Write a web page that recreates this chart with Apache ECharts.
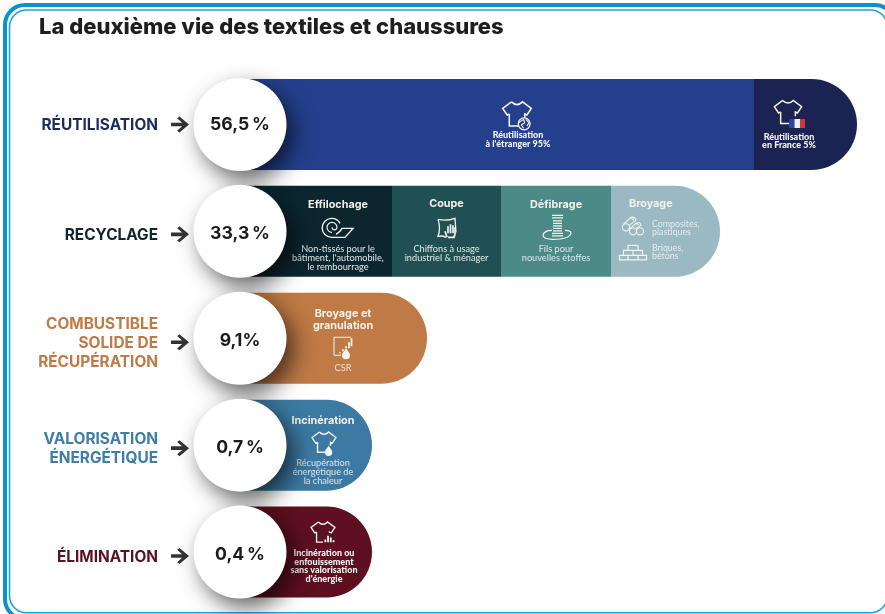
<!DOCTYPE html>
<html>
<head>
<meta charset="utf-8">
<style>html,body{margin:0;padding:0;background:#fff}#main{width:885px;height:614px}</style>
<script src="https://cdn.jsdelivr.net/npm/echarts@6/dist/echarts.min.js"></script>
</head>
<body>
<div id="main"></div>
<script>
var titleText = 'La deuxième vie des textiles et chaussures';
var categories = ['RÉUTILISATION', 'RECYCLAGE', 'COMBUSTIBLE\nSOLIDE DE\nRÉCUPÉRATION', 'VALORISATION\nÉNERGÉTIQUE', 'ÉLIMINATION'];
var shares = ['56,5\u202f%', '33,3\u202f%', '9,1%', '0,7\u202f%', '0,4\u202f%'];
var nameColors = ['#1c2a5e', '#10252c', '#c17a45', '#3c7ea8', '#5a1220'];

// longueurs des segments (les barres ne sont pas proportionnelles)
var lengthA = [514, 152, 187, 132, 132];
var lengthB = [103, 109, null, null, null];
var lengthC = [null, 110, null, null, null];
var lengthD = [null, 109, null, null, null];
var colorA = ['#24408d', '#0b262f', '#bf7a46', '#3c7aa3', '#5e0f20'];
var colorB = ['#1a2352', '#205053', null, null, null];
var colorC = [null, '#4a8a87', null, null, null];
var colorD = [null, '#9ab9c2', null, null, null];

var titleA = ['', 'Effilochage', 'Broyage et\ngranulation', 'Incinération', ''];
var textA = ['Réutilisation\nà l\'étranger 95%', 'Non-tissés pour le\nbâtiment, l\'automobile,\nle rembourrage', 'CSR', 'Récupération\nénergétique de\nla chaleur', 'Incinération ou\nenfouissement\nsans valorisation\nd\'énergie'];
var titleB = ['', 'Coupe', '', '', ''];
var textB = ['Réutilisation\nen France 5%', 'Chiffons à usage\nindustriel & ménager', '', '', ''];
var titleC = ['', 'Défibrage', '', '', ''];
var textC = ['', 'Fils pour\nnouvelles étoffes', '', '', ''];
var titleD = ['', 'Broyage', '', '', ''];
var textD = ['', 'Composites,\nplastiques\n\nBriques,\nbétons', '', '', ''];

/**
 * mise en page
 */
var TITLE_FONT = 'Inter';
var BODY_FONT = 'Lato';
var BAR_H = 91;
var shiftY = [0, 3, 4, 3, 4];

// réglage fin des libellés : dx, dy, gap entre titre et texte
var layoutA = [
    { dx: 21, dy: 15, bold: true },
    { dx: 22, dy: 3.5, gap: 34 },
    { dx: 9.5, dy: 1.5, gap: 31 },
    { dx: 17, dy: 5, gap: 31 },
    { dx: 18, dy: 14, bold: true }
];
var layoutB = [{ dx: -16.5, dy: 16.5, bold: true }, { dx: 0, dy: -1.5, gap: 34 }];
var layoutC = [null, { dx: 0, dy: -1, gap: 34 }];
var layoutD = [null, { left: 18, dy: -2.5, gap: 11 }];

function makeLabel(title, text, lay) {
    if (!title && !text) return { show: false };
    var lines = [];
    if (title) {
        title.split('\n').forEach(function (t) { lines.push('{t|' + t + '}'); });
    }
    if (title && text) lines.push('{s| }');
    text.split('\n').forEach(function (t) {
        if (t === '') lines.push('{g| }');
        else if (lay.left) lines.push('{p|' + t + '}');
        else if (lay.bold) lines.push('{k|' + t + '}');
        else lines.push('{b|' + t + '}');
    });
    var faint = lay.left ? '#e3edf0' : '#dfe8e8';
    var label = {
        show: true,
        formatter: lines.join('\n'),
        position: lay.left ? 'insideLeft' : 'inside',
        distance: lay.left || 0,
        offset: [lay.dx || 0, lay.dy || 0],
        rich: {
            t: { fontFamily: TITLE_FONT, fontWeight: 700, fontSize: 10.8, lineHeight: 12.5, color: '#f5f2ec' },
            b: { fontFamily: BODY_FONT, fontSize: 9.2, lineHeight: 9, color: faint },
            p: { fontFamily: BODY_FONT, fontSize: 8.8, lineHeight: 8, color: faint, padding: [0, 0, 0, 23] },
            k: { fontFamily: BODY_FONT, fontWeight: 900, fontSize: 9, lineHeight: 8.7, color: '#f4f4f4' },
            s: { fontSize: 1, lineHeight: lay.gap || 0 },
            g: { fontSize: 1, lineHeight: 8 }
        }
    };
    return label;
}

function makeSeries(lengths, colors, titles, texts, lays, nextLengths) {
    var data = lengths.map(function (v, i) {
        if (v === null) return null;
        var last = !nextLengths || nextLengths[i] === null;
        return {
            value: v,
            itemStyle: {
                color: colors[i],
                borderRadius: last ? [0, BAR_H / 2, BAR_H / 2, 0] : 0
            },
            label: makeLabel(titles[i], texts[i], lays[i] || {})
        };
    });
    return {
        type: 'bar',
        stack: 'vie',
        barWidth: BAR_H,
        data: data,
        silent: true,
        z: 2
    };
}

var series = [
    makeSeries(lengthA, colorA, titleA, textA, layoutA, lengthB),
    makeSeries(lengthB, colorB, titleB, textB, layoutB, lengthC),
    makeSeries(lengthC, colorC, titleC, textC, layoutC, lengthD),
    makeSeries(lengthD, colorD, titleD, textD, layoutD, null)
];

// cercles blancs avec les pourcentages
series.push({
    type: 'scatter',
    clip: false,
    symbolSize: 93,
    z: 5,
    silent: true,
    itemStyle: { color: '#fff', shadowBlur: 22, shadowColor: 'rgba(0,0,0,0.62)', shadowOffsetX: 7, shadowOffsetY: 9, opacity: 1 },
    data: shares.map(function (s, i) {
        return {
            value: [0, i],
            label: {
                show: true,
                position: 'inside',
                offset: [0, shiftY[i] * 0.7],
                formatter: s,
                fontFamily: TITLE_FONT,
                fontWeight: 700,
                fontSize: 17.6,
                color: '#1b1b1f'
            }
        };
    })
});

// flèches
series.push({
    type: 'scatter',
    clip: false,
    symbol: 'path://M0,6.2 H10.5 L5.8,1.8 L8,0 L17,8 L8,16 L5.8,14.2 L10.5,9.8 H0 Z',
    symbolSize: [18, 16],
    z: 5,
    silent: true,
    itemStyle: { color: '#000' },
    data: shares.map(function (s, i) {
        return { value: [-60, i], symbolOffset: [0, shiftY[i]] };
    })
});

/**
 * pictogrammes (custom series, placés depuis l'origine des barres et la ligne)
 */
var WHITE = '#f4f4f2';
var TEE = 'M-5 -11 Q0 -6 5 -11 L13 -5 L9 1 L7 0 V4 M-7 0 L-9 1 L-13 -5 L-5 -11 M-7 0 V11 H2';
var DROP = 'M0 -5 C2 -2 4 0 4 2 A4 4 0 0 1 -4 2 C-4 0 -2 -2 0 -5Z';

function stroke(path, w, color) {
    return { type: 'path', shape: { pathData: path }, style: { fill: null, stroke: color || WHITE, lineWidth: w || 1.3 } };
}
function fill(path, color, x, y) {
    return { type: 'path', x: x || 0, y: y || 0, shape: { pathData: path }, style: { fill: color || WHITE, stroke: null } };
}
function ring(cx, cy, r, w, bg) {
    return { type: 'circle', shape: { cx: cx, cy: cy, r: r }, style: { fill: bg || null, stroke: WHITE, lineWidth: w } };
}
function box(x, y, w, h, color) {
    return { type: 'rect', shape: { x: x, y: y, width: w, height: h }, style: { fill: color } };
}

// x : depuis le centre du cercle, row : ligne, dy : depuis le centre de la ligne
var icons = [
    { x: 277, row: 0, dy: -10.5, s: 1.1, parts: [
        stroke(TEE, 1.4),
        ring(6.5, 9, 5.4, 1.2, colorA[0]),
        stroke('M1.5 8 Q4 6 6 5 L7 8 L4 10 L6 13 M8 5 L11 8 L9 11', 1)
    ] },
    { x: 548, row: 0, dy: -12.5, s: 1.05, parts: [
        stroke(TEE, 1.4),
        box(1, 6.7, 5.2, 8.6, '#2a44a0'),
        box(6.2, 6.7, 5.2, 8.6, '#f2f2f4'),
        box(11.4, 6.7, 4.8, 8.6, '#d2353a')
    ] },
    { x: 98, row: 1, dy: -3, s: 1, parts: [
        stroke('M-6 9 A9.5 9.5 0 1 1 2 -5', 1.4),
        stroke('M-6 4 A5 5 0 1 1 -1 -1 A2.5 2.5 0 1 1 -6 -1', 1.2),
        stroke('M-6 9 H7 L15 0 H4 Q2 4 -2 6', 1.4)
    ] },
    { x: 207, row: 1, dy: -3, s: 1, parts: [
        stroke('M-9 -9 Q0 -7 8 -10 L9 4 M-9 -9 Q-6 0 -9 8 Q-5 7 -1 9', 1.3),
        stroke('M0 9 L-2 3 M1 5 V-2 M3.5 5 V-4 M6 5 V-3 M8 6 V-1 M1 9 H7 L8 6', 1.7)
    ] },
    { x: 317, row: 1, dy: -4, s: 1, parts: [
        stroke('M-5 -12 H6 M-5 -9.5 H6 M-4 -6.5 H5 M-4 -4 H5 M-4 -1.5 H5 M-4 1 H5 M-4 3.5 H5 M-5 6 H6 M-5 8.5 H6', 1.3),
        stroke('M-5 3 Q-13 3 -14 8 Q-14 12 -4 12 Q12 12 14 6 Q14 3 8 3', 1.2)
    ] },
    { x: 393, row: 1, dy: -5, s: 1, parts: [
        ring(-7, 1, 3.6, 1.1),
        ring(0, 5, 3.6, 1.1),
        ring(7, 5, 3.6, 1.1),
        stroke('M-9.5 -2 L-2 -9 Q2 -10 3 -6 L-4 -1 M-4 3 L3 -3 Q7 -5 8 -1 L3 2 M-2 -9 L1 -6 M3 -3 L6 -1', 1.1)
    ] },
    { x: 393, row: 1, dy: 21, s: 1, parts: [
        stroke('M-5 -7 H5 V-2 H-5 Z M-9.5 -2 H9.5 V3 H-9.5 Z M-13.5 3 H13.5 V7.5 H-13.5 Z M0 -2 V3 M-5 3 V7.5 M5 3 V7.5', 1.2)
    ] },
    { x: 103, row: 2, dy: 9, s: 1, parts: [
        stroke('M8 -10 H-9 V8 H-2', 1),
        stroke('M0 2 V4 M3 -1 V1 M6 -5 V1 M8.5 -9 V-1 M-3 5 V6', 1.8),
        fill(DROP, WHITE, 3, 6)
    ] },
    { x: 84, row: 3, dy: -3, s: 0.92, parts: [
        stroke(TEE, 1.5),
        fill(DROP, WHITE, 5, 9)
    ] },
    { x: 83, row: 4, dy: -20, s: 0.92, parts: [
        stroke('M-5 -11 Q0 -6 5 -11 L13 -5 L9 1 L7 0 V1 M-7 0 L-9 1 L-13 -5 L-5 -11 M-7 0 V11 H0', 1.5),
        stroke('M2.5 11 V8 M5.5 11 V4 M8.5 11 V6 M11.5 11 V9', 2)
    ] }
];

series.push({
    type: 'custom',
    silent: true,
    z: 6,
    clip: false,
    data: icons.map(function (d) { return [d.x, d.row]; }),
    renderItem: function (params, api) {
        var ic = icons[params.dataIndex];
        var p = api.coord([api.value(0), api.value(1)]);
        return {
            type: 'group',
            x: p[0],
            y: p[1] + ic.dy,
            scaleX: ic.s,
            scaleY: ic.s,
            children: ic.parts
        };
    }
});

// cadre bleu arrondi
var frame = [
    { type: 'rect', z: 1, shape: { x: 5, y: 5, width: 890, height: 614, r: 20 }, style: { fill: null, stroke: '#0a93c8', lineWidth: 4 } },
    { type: 'rect', z: 1, shape: { x: 9.5, y: 10, width: 878, height: 602.7, r: 17 }, style: { fill: null, stroke: '#1aa5db', lineWidth: 1.6 } }
];

var dom = document.getElementById('main');
var chart = echarts.init(dom, null, { renderer: 'canvas' });

var rich = {};
categories.forEach(function (c, i) {
    rich['n' + i] = { fontFamily: TITLE_FONT, fontWeight: 700, fontSize: 15.4, lineHeight: 19, color: nameColors[i] };
    rich['v' + i] = { fontSize: 1, lineHeight: shiftY[i] * 2 + 2 };
});

var option = {
    animation: false,
    backgroundColor: '#fff',
    title: {
        text: titleText,
        left: 34,
        top: 11,
        textStyle: { fontFamily: TITLE_FONT, fontWeight: 800, fontSize: 22, color: '#1d1d22' }
    },
    grid: { left: 240, right: 28, top: 71, height: 534.5, containLabel: false },
    xAxis: { type: 'value', min: 0, max: 617, show: false },
    yAxis: {
        type: 'category',
        inverse: true,
        data: categories,
        axisLine: { show: false },
        axisTick: { show: false },
        splitLine: { show: false },
        axisLabel: {
            interval: 0,
            margin: 82,
            formatter: function (value, index) {
                var out = value.split('\n').map(function (l) { return '{n' + index + '|' + l + '}'; });
                out.unshift('{v' + index + '| }');
                return out.join('\n');
            },
            rich: rich
        }
    },
    tooltip: { show: false },
    series: series,
    graphic: { elements: frame }
};
chart.setOption(option);
window.addEventListener('resize', function () { chart.resize(); });
</script>
</body>
</html>
